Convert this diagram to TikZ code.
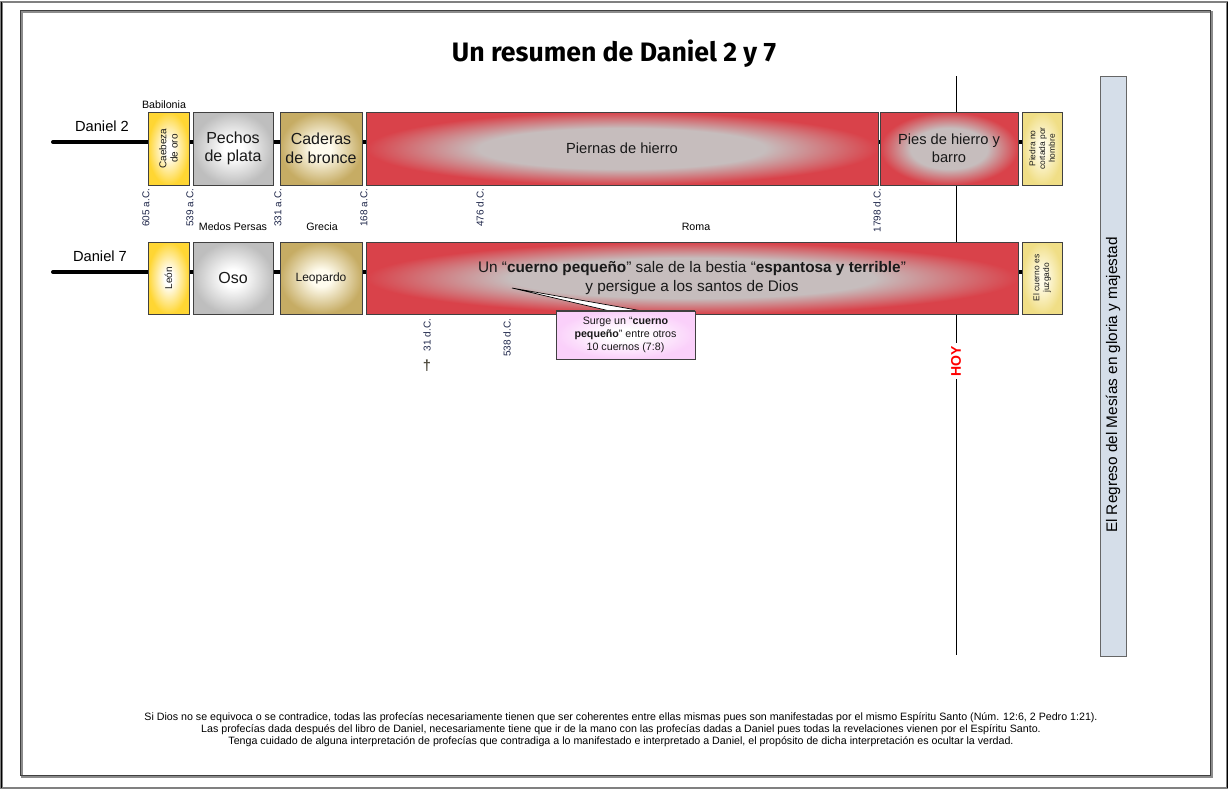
\documentclass[tikz,border=0pt]{standalone}
\usepackage{fontspec}
\setmainfont{Liberation Sans}
\newfontfamily\titlefont{Fira Sans}
\usetikzlibrary{calc}

\definecolor{oro}{HTML}{FFD633}
\definecolor{plata}{HTML}{BEBEBE}
\definecolor{bronce}{HTML}{C6AC64}
\definecolor{broncein}{HTML}{FFFCEE}
\definecolor{hierro}{HTML}{D9424A}
\definecolor{hierromid}{HTML}{C6BDBD}
\definecolor{piedra}{HTML}{F0DE86}
\definecolor{piedrain}{HTML}{FFFBE6}
\definecolor{nota}{HTML}{FAD0FA}
\definecolor{cielo}{HTML}{D5DEE9}
\definecolor{borde}{HTML}{404040}
\definecolor{fechaclr}{HTML}{1C2448}

\pgfdeclareradialshading{oroglow}{\pgfpointorigin}{color(0bp)=(white); color(5bp)=(white); color(25bp)=(oro); color(50bp)=(oro)}
\pgfdeclareradialshading{plataglow}{\pgfpointorigin}{color(0bp)=(white); color(6bp)=(white); color(25bp)=(plata); color(50bp)=(plata)}
\pgfdeclareradialshading{bronceglow}{\pgfpointorigin}{color(0bp)=(broncein); color(6bp)=(broncein); color(25bp)=(bronce); color(50bp)=(bronce)}
\pgfdeclareradialshading{hierroglow}{\pgfpointorigin}{color(0bp)=(hierromid); color(14bp)=(hierromid); color(25bp)=(hierro); color(50bp)=(hierro)}
\pgfdeclareradialshading{piedraglow}{\pgfpointorigin}{color(0bp)=(piedrain); color(5bp)=(piedrain); color(25bp)=(piedra); color(50bp)=(piedra)}
\pgfdeclareradialshading{notaglow}{\pgfpointorigin}{color(0bp)=(white); color(6bp)=(white); color(25bp)=(nota); color(50bp)=(nota)}

\tikzset{
  caja/.style={draw=borde, line width=0.6pt, align=center, inner sep=1pt, text=black!90},
  vert/.style={caja, rotate=90, font=\fontsize{7}{8}\selectfont},
  fecha/.style={rotate=90, anchor=east, inner sep=0.5pt, text=fechaclr, font=\fontsize{7.5}{9}\selectfont},
  reino/.style={font=\fontsize{8}{9}\selectfont},
  spine/.style={line width=3pt, line cap=round},
  orofill/.style={shade, shading=oroglow},
  platafill/.style={shade, shading=plataglow},
  broncefill/.style={shade, shading=bronceglow},
  hierrofill/.style={shade, shading=hierroglow},
  piedrafill/.style={shade, shading=piedraglow},
  notafill/.style={shade, shading=notaglow},
}

\begin{document}
\begin{tikzpicture}[x=0.75pt, y=-0.75pt]
\useasboundingbox (0,0) rectangle (1230,790);
% frames
\draw[black!50, line width=1.5pt] (1.5,1.5) rectangle (1227,788);
\draw[black, line width=0.75pt] (1.5,1.5) -- (1.5,788);
\draw[black, line width=0.75pt] (1227,1.5) -- (1227,788);
\draw[black!45, line width=1.5pt] (21.5,11.5) rectangle (1211.5,776.5);
\draw[borde, line width=0.75pt] (20,10) rectangle (1210,775);

\node[font=\titlefont\bfseries\fontsize{20}{24}\selectfont] (titulo) at (614,54) {Un resumen de Daniel 2 y 7};

% HOY
\coordinate (hoytop) at (956,76);
\coordinate (hoybot) at (956,655);
\node[rotate=90, text=red, inner sep=2pt, font=\bfseries\fontsize{10.5}{12}\selectfont] (hoy) at (956,361) {HOY};
\draw[line width=0.75pt] (hoytop) -- (hoy.east);
\draw[line width=0.75pt] (hoy.west) -- (hoybot);

% Daniel 2
\coordinate (d2a) at (53,142);
\coordinate (d2b) at (1022,142);
\draw[spine] (d2a) -- (d2b);
\node[font=\fontsize{11}{13}\selectfont] (dan2) at (102,126) {Daniel 2};
\node[reino] (babilonia) at (164,105) {Babilonia};

\node[vert, orofill, minimum width=54.75pt, minimum height=30.75pt, font=\fontsize{7.5}{8.5}\selectfont] (oro) at (168.5,148.5) {Caebeza\\de oro};
\node[caja, platafill, minimum width=60pt, minimum height=54.75pt, font=\fontsize{12}{14}\selectfont] (plata) at (233,148.5) {Pechos\\de plata};
\node[caja, broncefill, minimum width=61.5pt, minimum height=54.75pt, font=\fontsize{12}{14}\selectfont] (bronce) at (321,148.5) {Caderas\\de bronce};
\node[caja, hierrofill, minimum width=384pt, minimum height=54.75pt, font=\fontsize{11}{13}\selectfont] (piernas) at (622,148.5) {Piernas de hierro};
\node[caja, hierrofill, minimum width=103.5pt, minimum height=54.75pt, font=\fontsize{11}{13.5}\selectfont] (pies) at (949,148.5) {Pies de hierro y\\barro};
\node[vert, piedrafill, minimum width=54.75pt, minimum height=30pt, font=\fontsize{6.3}{7.3}\selectfont] (piedra) at (1042,148.5) {Piedra no\\cortada por\\hombre};

\foreach \x/\t [count=\i] in {146/605 a.C., 190/539 a.C., 278/331 a.C., 364/168 a.C., 480/476 d.C., 877/1798 d.C.}
  \node[fecha] (fa\i) at (\x,188) {\t};

\node[reino] (medos) at (233,227) {Medos Persas};
\node[reino] (grecia) at (322,227) {Grecia};
\node[reino] (roma) at (696,227) {Roma};

% Daniel 7
\coordinate (d7a) at (53,272);
\coordinate (d7b) at (1022,272);
\draw[spine] (d7a) -- (d7b);
\node[font=\fontsize{11}{13}\selectfont] (dan7) at (100,256) {Daniel 7};

\node[vert, orofill, minimum width=54pt, minimum height=30.75pt, font=\fontsize{7.5}{8.5}\selectfont] (leon) at (168.5,278) {León};
\node[caja, platafill, minimum width=60pt, minimum height=54pt, font=\fontsize{12}{14}\selectfont] (oso) at (233,278) {Oso};
\node[caja, broncefill, minimum width=61.5pt, minimum height=54pt, font=\fontsize{9}{11}\selectfont] (leopardo) at (321,278) {Leopardo};
\node[caja, hierrofill, minimum width=489pt, minimum height=54pt, font=\fontsize{11.5}{14}\selectfont] (bestia) at (692,278)
  {Un “\textbf{cuerno pequeño}” sale de la bestia “\textbf{espantosa y terrible}”\\y persigue a los santos de Dios};
\node[vert, piedrafill, minimum width=54pt, minimum height=30pt, font=\fontsize{6.3}{7.3}\selectfont] (juicio) at (1042,278) {El cuerno es\\juzgado};

% callout
\coordinate (punta) at (512,288);
\node[caja, notafill, minimum width=104.25pt, minimum height=36pt, font=\fontsize{8}{10}\selectfont] (nota) at (625.5,335)
  {Surge un “\textbf{cuerno}\\\textbf{pequeño}” entre otros\\10 cuernos (7:8)};
\draw[fill=white, line width=0.5pt] (punta) -- ([xshift=-13pt]nota.north) -- ([xshift=11pt]nota.north) -- cycle;
\draw[borde, line width=0.6pt] (nota.north west) -- (nota.north east);

\node[fecha] (fb1) at (427,318) {31 d.C.};
\node[fecha] (fb2) at (507,318) {538 d.C.};
\node[font=\bfseries\fontsize{11}{12}\selectfont, text=black!80!yellow] (cruz) at (427,366) {†};

% regreso
\node[draw=black!60, fill=cielo, line width=0.75pt, rotate=90, minimum width=435pt, minimum height=19.5pt] (regreso) at (1113,366) {};
\node[rotate=90, font=\fontsize{11.5}{13}\selectfont] (regresotxt) at (1113,385) {El Regreso del Mesías en gloria y majestad};

% footer
\node[align=center, font=\fontsize{8}{9}\selectfont] (aviso) at (621,730)
  {Si Dios no se equivoca o se contradice, todas las profecías necesariamente tienen que ser coherentes entre ellas mismas pues son manifestadas por el mismo Espíritu Santo (Núm. 12:6, 2 Pedro 1:21).\\
   Las profecías dada después del libro de Daniel, necesariamente tiene que ir de la mano con las profecías dadas a Daniel pues todas la revelaciones vienen por el Espíritu Santo.\\
   Tenga cuidado de alguna interpretación de profecías que contradiga a lo manifestado e interpretado a Daniel, el propósito de dicha interpretación es ocultar la verdad.};
\end{tikzpicture}
\end{document}
